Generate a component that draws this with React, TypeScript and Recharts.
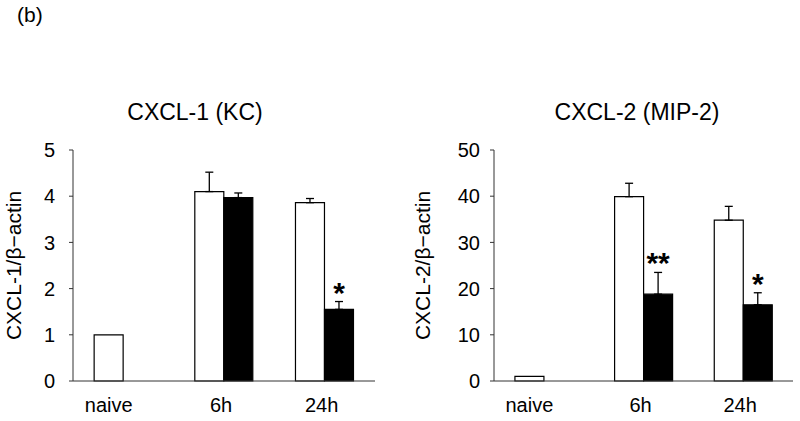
import React from 'react';
import { BarChart, Bar, XAxis, YAxis, ErrorBar, LabelList } from 'recharts';

const categories = ['naive', '6h', '24h'];

// CXCL-1 (KC)
const kcControl = [1, 4.1, 3.86];
const kcControlErr = [null, 0.42, 0.09];
const kcTreated = [null, 3.97, 1.55];
const kcTreatedErr = [null, 0.1, 0.17];
const kcSig = ['', '', '*'];
const kcTicks = [0, 1, 2, 3, 4, 5];

// CXCL-2 (MIP-2)
const mipControl = [1, 39.9, 34.8];
const mipControlErr = [null, 2.9, 3.0];
const mipTreated = [null, 18.8, 16.5];
const mipTreatedErr = [null, 4.7, 2.6];
const mipSig = ['', '**', '*'];
const mipTicks = [0, 10, 20, 30, 40, 50];

const FONT = '"Liberation Sans", Arial, sans-serif';
const GAP = 0.21; // barCategoryGap fraction

type Row = {
    name: string;
    ctrl: number | null;
    ctrlErr: number[] | null;
    trt: number | null;
    trtErr: number[] | null;
    sig: string;
};

const buildRows = (
    ctrl: (number | null)[],
    ctrlErr: (number | null)[],
    trt: (number | null)[],
    trtErr: (number | null)[],
    sig: string[]
): Row[] =>
    categories.map((name, i) => ({
        name,
        ctrl: ctrl[i],
        ctrlErr: ctrlErr[i] == null ? null : [0, ctrlErr[i] as number],
        trt: trt[i],
        trtErr: trtErr[i] == null ? null : [0, trtErr[i] as number],
        sig: sig[i],
    }));

interface PanelProps {
    rows: Row[];
    ticks: number[];
    yLabel: string;
    left: number;
    yAxisWidth: number;
    marginRight: number;
    yTickMargin: number;
    labelX: number;
}

const W = 400;
const H = 421;

const Panel: React.FC<PanelProps> = ({ rows, ticks, yLabel, left, yAxisWidth, marginRight, yTickMargin, labelX }) => {
    const plotWidth = W - yAxisWidth - marginRight;
    const band = plotWidth / rows.length;
    const halfBar = (band * (1 - 2 * GAP)) / 4;

    const XTick = (props: any) => {
        const { x, y, payload } = props;
        const row = rows.find(r => r.name === payload.value);
        // categories with only one bar are labelled under that bar
        const dx = row && row.trt == null ? -halfBar : -3;
        return (
            <text x={x + dx} y={y} dy={14} textAnchor="middle" fontSize={20} fill="#000" fontFamily={FONT}>
                {payload.value}
            </text>
        );
    };

    const Star = (props: any) => {
        const { x, y, width, height, value } = props;
        const row = rows.find(r => r.name === value);
        if (!row || !row.sig || !row.trt) return null;
        const perUnit = height / row.trt;
        const errTop = y - (row.trtErr ? row.trtErr[1] : 0) * perUnit;
        return (
            <text x={x + width / 2} y={errTop + 1} textAnchor="middle" fontSize={30} fontWeight="bold" fill="#000" fontFamily={FONT}>
                {row.sig}
            </text>
        );
    };

    return (
        <div style={{ position: 'absolute', left, top: 0 }}>
            <BarChart
                width={W}
                height={H}
                data={rows}
                margin={{ top: 150, right: marginRight, bottom: 0, left: 0 }}
                barCategoryGap={`${GAP * 100}%`}
                barGap={0}
            >
                <XAxis
                    dataKey="name"
                    height={40}
                    interval={0}
                    tickLine={false}
                    tickSize={0}
                    tickMargin={17}
                    axisLine={{ stroke: '#333', strokeWidth: 1 }}
                    tick={<XTick />}
                />
                <YAxis
                    width={yAxisWidth}
                    domain={[0, ticks[ticks.length - 1]]}
                    ticks={ticks}
                    interval={0}
                    tickSize={4}
                    tickMargin={yTickMargin}
                    axisLine={{ stroke: '#333', strokeWidth: 1 }}
                    tickLine={{ stroke: '#333' }}
                    tick={{ fontSize: 20, fill: '#000', fontFamily: FONT }}
                    label={{
                        content: (p: any) => {
                            const vb = p.viewBox || {};
                            const cy = vb.y + vb.height / 2;
                            return (
                                <text
                                    x={labelX}
                                    y={cy}
                                    transform={`rotate(-90, ${labelX}, ${cy})`}
                                    textAnchor="middle"
                                    fontSize={21}
                                    fill="#000"
                                    fontFamily={FONT}
                                >
                                    {yLabel}
                                </text>
                            );
                        },
                    }}
                />
                <Bar dataKey="ctrl" fill="#fff" stroke="#000" strokeWidth={1.2} isAnimationActive={false}>
                    <ErrorBar dataKey="ctrlErr" width={4} stroke="#000" strokeWidth={1.3} direction="y" />
                </Bar>
                <Bar dataKey="trt" fill="#000" stroke="#000" strokeWidth={1.2} isAnimationActive={false}>
                    <ErrorBar dataKey="trtErr" width={4} stroke="#000" strokeWidth={1.3} direction="y" />
                    <LabelList dataKey={(d: Row) => d.name} content={<Star />} />
                </Bar>
            </BarChart>
        </div>
    );
};

const kcRows = buildRows(kcControl, kcControlErr, kcTreated, kcTreatedErr, kcSig);
const mipRows = buildRows(mipControl, mipControlErr, mipTreated, mipTreatedErr, mipSig);

export default function App() {
    return (
        <div style={{ position: 'absolute', left: 0, top: 0, width: 800, height: 421, background: '#fff', fontFamily: FONT }}>
            <Panel
                rows={kcRows}
                ticks={kcTicks}
                yLabel="CXCL-1/β−actin"
                left={0}
                yAxisWidth={73}
                marginRight={25}
                yTickMargin={14}
                labelX={21}
            />
            <Panel
                rows={mipRows}
                ticks={mipTicks}
                yLabel="CXCL-2/β−actin"
                left={400}
                yAxisWidth={94}
                marginRight={7}
                yTickMargin={10}
                labelX={30}
            />
            <svg width={800} height={421} style={{ position: 'absolute', left: 0, top: 0, pointerEvents: 'none' }}>
                <text x={17} y={22} fontSize={21} fill="#000" fontFamily={FONT}>(b)</text>
                <text x={195} y={120} textAnchor="middle" fontSize={23} fill="#000" fontFamily={FONT}>CXCL-1 (KC)</text>
                <text x={637} y={120} textAnchor="middle" fontSize={23} fill="#000" fontFamily={FONT}>CXCL-2 (MIP-2)</text>
            </svg>
        </div>
    );
}
